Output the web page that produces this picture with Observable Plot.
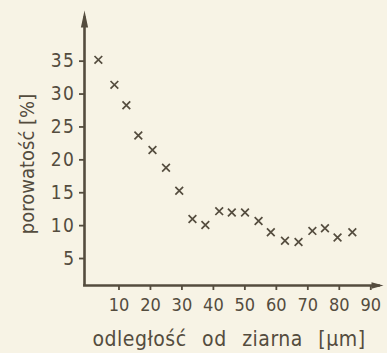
<!DOCTYPE html>
<html>
<head>
<meta charset="utf-8">
<script src="https://cdn.jsdelivr.net/npm/d3@7"></script>
<script src="https://cdn.jsdelivr.net/npm/@observablehq/plot@0.6"></script>
<style>
  html, body { margin: 0; padding: 0; background: #f7f3e5; }
  #chart { width: 387px; height: 353px; }
</style>
</head>
<body>
<div id="chart"></div>
<script>
// Porosity measured at increasing distance from the grain
const distance = [4.4, 9.5, 13.3, 17.1, 21.6, 25.9, 30.1, 34.3, 38.4, 42.8,
                  46.8, 51.0, 55.3, 59.2, 63.7, 68.0, 72.4, 76.4, 80.4, 85.1];
const porosity = [35.2, 31.4, 28.3, 23.7, 21.5, 18.8, 15.3, 11.0, 10.1, 12.2,
                  12.0, 12.0, 10.7, 9.0, 7.7, 7.5, 9.2, 9.6, 8.2, 9.0];

const xTicks = [10, 20, 30, 40, 50, 60, 70, 80, 90];
const yTicks = [5, 10, 15, 20, 25, 30, 35];

const xLabel = "odległość od ziarna [µm]";
const yLabel = "porowatość [%]";

const xDomain = [0, 95];
const yDomain = [0.9, 42.7];

const ink = "#544c3e";
const paper = "#f7f3e5";

const points = distance.map((d, i) => ({distance: d, porosity: porosity[i]}));

// Filled, elongated arrow heads with the tip at the anchor point
const arrowHead = (len, half) => ({
  draw(context) {
    context.moveTo(0, 0);
    context.lineTo(half, len);
    context.lineTo(-half, len);
    context.closePath();
  }
});

const chart = Plot.plot({
  width: 387,
  height: 353,
  marginLeft: 84,
  marginRight: 4,
  marginTop: 10,
  marginBottom: 68,
  style: {background: paper, color: ink, fontFamily: "'DejaVu Sans Condensed', 'Liberation Sans Narrow', sans-serif"},
  x: {domain: xDomain},
  y: {domain: yDomain},
  marks: [
    // axis lines with arrows
    Plot.ruleX([xDomain[0]], {y1: yDomain[0], y2: yDomain[1] - 1, stroke: ink, strokeWidth: 2.6}),
    Plot.ruleY([yDomain[0]], {x1: xDomain[0] - 0.3, x2: xDomain[1] - 1, stroke: ink, strokeWidth: 2.6}),
    Plot.dot([{x: xDomain[0], y: yDomain[1]}], {x: "x", y: "y", symbol: arrowHead(17, 3.6), fill: ink, stroke: "none"}),
    Plot.dot([{x: xDomain[1], y: yDomain[0]}], {x: "x", y: "y", symbol: arrowHead(12, 3.2), rotate: 90, fill: ink, stroke: "none"}),
    Plot.axisX({ticks: xTicks, tickSize: 5, tickPadding: 8, fontSize: 18, label: null, strokeWidth: 1.8, textStroke: "none", dx: 3}),
    Plot.axisY({ticks: yTicks, tickSize: 5, tickPadding: 4, fontSize: 19, label: null, strokeWidth: 1.8, textStroke: "none"}),
    Plot.dot(points, {x: "distance", y: "porosity", symbol: "times", r: 3.6, stroke: ink, strokeWidth: 1.7}),
    Plot.text([xLabel], {frameAnchor: "bottom", lineAnchor: "middle", textAnchor: "middle", dx: -5, dy: 54, fontSize: 21, fill: ink, text: d => d}),
    Plot.text([yLabel], {frameAnchor: "left", lineAnchor: "middle", textAnchor: "middle", rotate: -90, dx: -57, dy: 16, fontSize: 20, fill: ink, text: d => d})
  ]
});

// wider word gaps and slightly loose lettering in the distance title
d3.select(chart).selectAll("text")
  .filter(function() { return this.textContent === xLabel; })
  .style("word-spacing", "9px")
  .style("letter-spacing", "0.5px");
// spaced-out digits on the porosity axis
const yTickText = new Set(yTicks.map(String));
d3.select(chart).selectAll('g[aria-label="y-axis tick label"] text')
  .filter(function() { return yTickText.has(this.textContent); })
  .style("letter-spacing", "1.5px");

document.getElementById("chart").appendChild(chart);
</script>
</body>
</html>
